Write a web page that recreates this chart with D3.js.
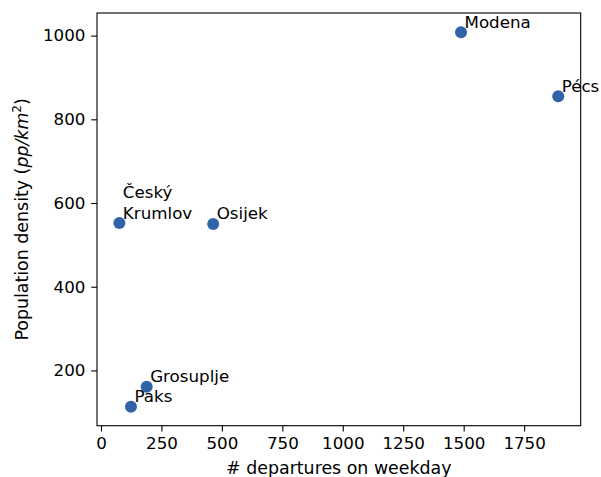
<!DOCTYPE html>
<html>
<head>
<meta charset="utf-8">
<script src="https://cdn.jsdelivr.net/npm/d3@7"></script>
<style>
  html, body { margin: 0; padding: 0; background: #fff; }
  svg { display: block; }
  text { font-family: "DejaVu Sans", sans-serif; fill: #000; }
</style>
</head>
<body>
<svg id="chart" width="601" height="477"></svg>
<script>
// Cities: weekday departures vs. population density
const cities = ["Modena", "Pécs", "Český\nKrumlov", "Osijek", "Grosuplje", "Paks"];
const departures = [1489, 1891, 76, 464, 189, 124];
const density = [1008, 855, 552, 550, 161, 113];
const xTicks = [0, 250, 500, 750, 1000, 1250, 1500, 1750];
const yTicks = [200, 400, 600, 800, 1000];

const W = 601, H = 477;
const margin = { left: 97, right: 20.3, top: 13, bottom: 51.3 };
const fontSize = 16.7;
const labelSize = 17.4;

const svg = d3.select("#chart");

const x = d3.scaleLinear()
  .domain([-16.5, 1984])
  .range([margin.left, W - margin.right]);
const y = d3.scaleLinear()
  .domain([68, 1054])
  .range([H - margin.bottom, margin.top]);

const plot = svg.append("g");

// axes
const xAxis = d3.axisBottom(x).tickValues(xTicks).tickSize(5.8).tickPadding(5.8).tickFormat(d3.format("d"));
const yAxis = d3.axisLeft(y).tickValues(yTicks).tickSize(5.8).tickPadding(5.8).tickFormat(d3.format("d"));

const gx = svg.append("g")
  .attr("transform", `translate(0,${H - margin.bottom})`)
  .call(xAxis);
const gy = svg.append("g")
  .attr("transform", `translate(${margin.left},0)`)
  .call(yAxis);

[gx, gy].forEach(g => {
  g.select(".domain").remove();
  g.selectAll(".tick line").attr("stroke", "#000").attr("stroke-width", 1.1);
  g.selectAll(".tick text")
    .attr("font-family", "DejaVu Sans")
    .attr("font-size", fontSize)
    .attr("fill", "#000");
});

// frame
svg.append("rect")
  .attr("x", margin.left)
  .attr("y", margin.top)
  .attr("width", W - margin.left - margin.right)
  .attr("height", H - margin.top - margin.bottom)
  .attr("fill", "none")
  .attr("stroke", "#000")
  .attr("stroke-width", 1.1);

// points
const data = cities.map((c, i) => ({ name: c, dep: departures[i], den: density[i] }));

plot.selectAll("circle")
  .data(data)
  .enter().append("circle")
  .attr("cx", d => x(d.dep))
  .attr("cy", d => y(d.den))
  .attr("r", 6)
  .attr("fill", "#3163a8");

// point labels
const labels = svg.append("g");
data.forEach(d => {
  const lines = d.name.split("\n");
  const t = labels.append("text")
    .attr("x", x(d.dep) + 3.5)
    .attr("y", y(d.den) - 4.5 - (lines.length - 1) * 20.5)
    .attr("font-size", fontSize);
  lines.forEach((ln, j) => {
    t.append("tspan")
      .attr("x", x(d.dep) + 3.5)
      .attr("dy", j === 0 ? 0 : 20.5)
      .text(ln);
  });
});

// x axis label
svg.append("text")
  .attr("x", (margin.left + W - margin.right) / 2)
  .attr("y", 474)
  .attr("text-anchor", "middle")
  .attr("font-size", labelSize)
  .text("# departures on weekday");

// y axis label
const yl = svg.append("text")
  .attr("transform", `translate(28,${(margin.top + H - margin.bottom) / 2}) rotate(-90)`)
  .attr("text-anchor", "middle")
  .attr("font-size", labelSize);
yl.append("tspan").text("Population density (");
yl.append("tspan").attr("font-style", "italic").text("pp/km");
yl.append("tspan").attr("font-size", labelSize * 0.7).attr("dy", -7).text("2");
yl.append("tspan").attr("dy", 7).text(")");
</script>
</body>
</html>
